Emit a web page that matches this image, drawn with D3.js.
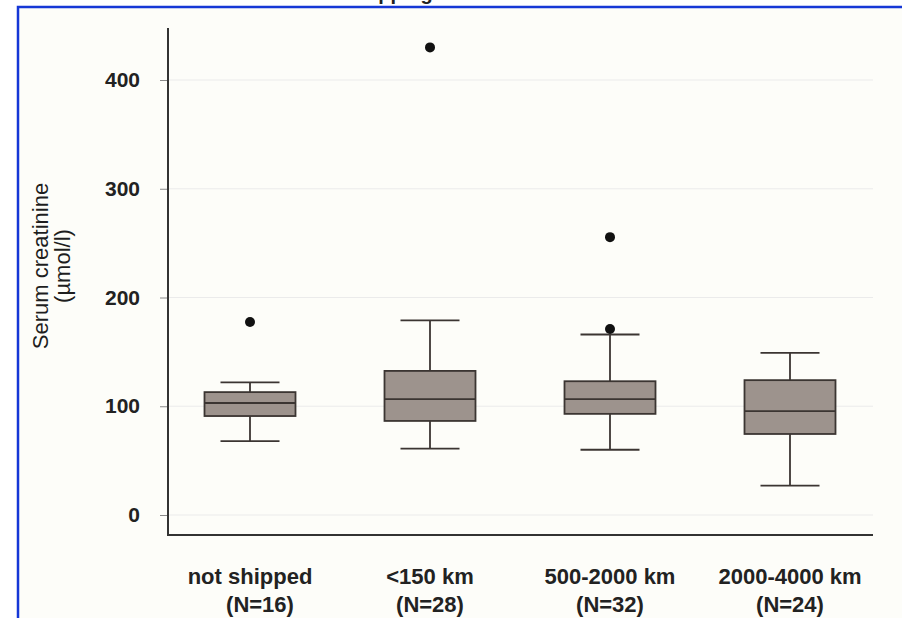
<!DOCTYPE html>
<html lang="en">
<head>
<meta charset="UTF-8">
<title>Serum creatinine by shipping distance</title>
<script src="https://d3js.org/d3.v7.min.js"></script>
<style>
  body { margin: 0; background: #ffffff; }
  svg { display: block; font-family: 'Liberation Sans', Arial, sans-serif; }
  .tick-label { font-weight: bold; font-size: 21px; fill: #222; }
  .cat-label { font-weight: bold; font-size: 22px; fill: #222; }
  .axis-title { font-size: 22px; fill: #1e1e1e; }
</style>
</head>
<body>
<svg id="chart" width="902" height="618"></svg>
<script>
// data
const categories = ["not shipped", "<150 km", "500-2000 km", "2000-4000 km"];
const counts = [16, 28, 32, 24];
const whiskerLow = [68, 61, 60, 27];
const q1 = [91, 86.5, 93, 74.5];
const medians = [103, 106.5, 106.5, 95.5];
const q3 = [113, 132.5, 123, 124];
const whiskerHigh = [122, 179, 166, 149];
const outliers = [[177.5], [430], [255.5, 171], []];
const yTicks = [0, 100, 200, 300, 400];

const svg = d3.select("#chart");
const W = 902, H = 618;

// framed panel with blue border
svg.append("rect")
  .attr("x", 18).attr("y", 7)
  .attr("width", W + 10).attr("height", H + 10)
  .attr("fill", "#fdfdf9")
  .attr("stroke", "#1537d6")
  .attr("stroke-width", 2.5);

// title, mostly cut off at the top edge (as in the source)
svg.append("text")
  .attr("x", 390).attr("y", 0)
  .attr("text-anchor", "middle")
  .style("font-weight", "bold").style("font-size", "20px").style("fill", "#222")
  .text("Shipping");

const x = d3.scaleBand().domain(categories).range([160, 880]);
const y = d3.scaleLinear().domain([0, 400]).range([515, 80]);

const axisLeft = 168, axisRight = 873, axisBottom = 535, axisTop = 28;

// gridlines
svg.append("g").selectAll("line")
  .data(yTicks)
  .join("line")
  .attr("x1", axisLeft).attr("x2", axisRight)
  .attr("y1", d => y(d)).attr("y2", d => y(d))
  .attr("stroke", "#ebebeb").attr("stroke-width", 1.2);

// y axis via d3
const yAxis = svg.append("g")
  .attr("transform", `translate(${axisLeft},0)`)
  .call(d3.axisLeft(y).tickValues(yTicks).tickSize(8).tickPadding(20));
yAxis.select(".domain").remove();
yAxis.selectAll(".tick line").attr("stroke", "#888");
yAxis.selectAll(".tick text").attr("class", "tick-label").attr("fill", null);

// axis lines
svg.append("line")
  .attr("x1", axisLeft).attr("x2", axisLeft)
  .attr("y1", axisTop).attr("y2", axisBottom + 1)
  .attr("stroke", "#333").attr("stroke-width", 2);
svg.append("line")
  .attr("x1", axisLeft - 1).attr("x2", axisRight)
  .attr("y1", axisBottom).attr("y2", axisBottom)
  .attr("stroke", "#333").attr("stroke-width", 2);

// y title
const yt = svg.append("text")
  .attr("class", "axis-title")
  .attr("transform", "translate(0,266) rotate(-90)")
  .attr("text-anchor", "middle");
yt.append("tspan").attr("x", 0).attr("y", 48).text("Serum creatinine");
yt.append("tspan").attr("x", 0).attr("y", 70).text("(µmol/l)");

// category labels
const labels = svg.append("g").selectAll("text")
  .data(categories)
  .join("text")
  .attr("class", "cat-label")
  .attr("text-anchor", "middle");
labels.append("tspan")
  .attr("x", d => x(d) + x.bandwidth() / 2)
  .attr("y", 584)
  .text(d => d);
labels.append("tspan")
  .attr("x", (d, i) => x(d) + x.bandwidth() / 2 + (i === 0 ? 10 : 0))
  .attr("y", 612)
  .text((d, i) => `(N=${counts[i]})`);

// boxes
const boxW = 91, capW = 59;
const stroke = "#3b3532";
const sw = 1.8;
const groups = svg.append("g").selectAll("g")
  .data(categories)
  .join("g")
  .attr("transform", d => `translate(${x(d) + x.bandwidth() / 2},0)`);

groups.append("line")
  .attr("x1", 0).attr("x2", 0)
  .attr("y1", (d, i) => y(whiskerHigh[i])).attr("y2", (d, i) => y(q3[i]))
  .attr("stroke", stroke).attr("stroke-width", sw);
groups.append("line")
  .attr("x1", 0).attr("x2", 0)
  .attr("y1", (d, i) => y(q1[i])).attr("y2", (d, i) => y(whiskerLow[i]))
  .attr("stroke", stroke).attr("stroke-width", sw);
groups.append("line")
  .attr("x1", -capW / 2).attr("x2", capW / 2)
  .attr("y1", (d, i) => y(whiskerHigh[i])).attr("y2", (d, i) => y(whiskerHigh[i]))
  .attr("stroke", stroke).attr("stroke-width", sw);
groups.append("line")
  .attr("x1", -capW / 2).attr("x2", capW / 2)
  .attr("y1", (d, i) => y(whiskerLow[i])).attr("y2", (d, i) => y(whiskerLow[i]))
  .attr("stroke", stroke).attr("stroke-width", sw);
groups.append("rect")
  .attr("x", -boxW / 2).attr("width", boxW)
  .attr("y", (d, i) => y(q3[i]))
  .attr("height", (d, i) => y(q1[i]) - y(q3[i]))
  .attr("fill", "#9d938d")
  .attr("stroke", stroke).attr("stroke-width", sw);
groups.append("line")
  .attr("x1", -boxW / 2).attr("x2", boxW / 2)
  .attr("y1", (d, i) => y(medians[i])).attr("y2", (d, i) => y(medians[i]))
  .attr("stroke", stroke).attr("stroke-width", sw);
groups.selectAll("circle")
  .data((d, i) => outliers[i])
  .join("circle")
  .attr("cx", 0)
  .attr("cy", v => y(v))
  .attr("r", 5)
  .attr("fill", "#111");
</script>
</body>
</html>
